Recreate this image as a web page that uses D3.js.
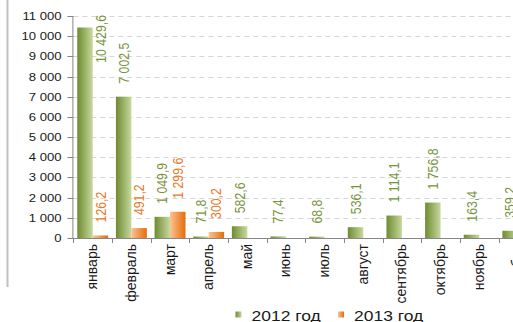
<!DOCTYPE html>
<html><head><meta charset="utf-8">
<script src="https://cdn.jsdelivr.net/npm/d3@7"></script>
<style>
html,body{margin:0;padding:0;background:#fff;overflow:hidden}
svg{display:block;font-family:"Liberation Sans",Arial,sans-serif}
</style></head>
<body>
<script>
const months = ["январь","февраль","март","апрель","май","июнь","июль","август","сентябрь","октябрь","ноябрь","декабрь"];
const values2012 = [10429.6, 7002.5, 1049.9, 71.8, 582.6, 77.4, 68.8, 536.1, 1114.1, 1756.8, 163.4, 359.2];
const values2013 = [126.2, 491.2, 1299.6, 300.2, null, null, null, null, null, null, null, null];
const seriesNames = ["2012 год", "2013 год"];
const yTicks = [0,1000,2000,3000,4000,5000,6000,7000,8000,9000,10000,11000];

const W = 513, H = 322;
const svg = d3.select("body").append("svg").attr("width", W).attr("height", H);

const defs = svg.append("defs");
const g1 = defs.append("linearGradient").attr("id","gGreen").attr("x1","0").attr("x2","1").attr("y1","0").attr("y2","0");
g1.append("stop").attr("offset","0").attr("stop-color","#6E8B30");
g1.append("stop").attr("offset","1").attr("stop-color","#C6D99E");
const g2 = defs.append("linearGradient").attr("id","gOrange").attr("x1","0").attr("x2","1").attr("y1","0").attr("y2","0");
g2.append("stop").attr("offset","0").attr("stop-color","#FAC494");
g2.append("stop").attr("offset","1").attr("stop-color","#E46C0A");
const fills = ["url(#gGreen)","url(#gOrange)"];
const labelColors = ["#77933C","#E8782A"];

const plotLeft = 73.4, plotTop = 16, plotBottom = 238;
const bandW = 38.65;
const x = d3.scaleBand().domain(months).range([plotLeft, plotLeft + bandW*months.length]).paddingInner(0).paddingOuter(0);
const xs = d3.scaleBand().domain([0,1]).range([x.bandwidth()*0.1, x.bandwidth()*0.9]).padding(0);
const y = d3.scaleLinear().domain([0, 11000]).range([plotBottom, plotTop]);

// left frame line
svg.append("line").attr("x1",7.5).attr("x2",7.5).attr("y1",0).attr("y2",287)
  .attr("stroke","#C0C0C0").attr("stroke-width",2);

// gridlines
svg.append("g").selectAll("line").data(yTicks.filter(d=>d>0)).join("line")
  .attr("x1", plotLeft).attr("x2", W)
  .attr("y1", d=>Math.round(y(d))+0.5).attr("y2", d=>Math.round(y(d))+0.5)
  .attr("stroke","#D6D6D6").attr("stroke-width",1).attr("stroke-dasharray","5,4");

// bars
const series = [values2012, values2013];
series.forEach((vals, si) => {
  svg.append("g").selectAll("rect").data(months.map((m,i)=>({m, v: vals[i]})).filter(d=>d.v!=null)).join("rect")
    .attr("x", d=>x(d.m)+xs(si)).attr("width", xs.bandwidth())
    .attr("y", d=>y(d.v)).attr("height", d=>plotBottom - y(d.v))
    .attr("fill", fills[si]);
});

// data labels
const fmt = v => {
  const s = v.toFixed(1).replace(".", ",");
  const [ip, dp] = s.split(",");
  return ip.replace(/\B(?=(\d{3})+(?!\d))/g, "\u00a0") + "," + dp;
};
const lblFont = 12.3, gap = 13, thick = 1.15;
series.forEach((vals, si) => {
  months.forEach((m, i) => {
    const v = vals[i];
    if (v == null) return;
    const t = svg.append("text").text(fmt(v))
      .attr("font-size", lblFont).attr("fill", labelColors[si]);
    const len = t.node().getComputedTextLength();
    let cx = x(m) + xs(si) + xs.bandwidth()/2;
    let yb = y(v) - gap;
    if (yb - len < plotTop - 2) {
      // does not fit above the bar: moved beside it, aligned to the top
      cx += xs.bandwidth();
      yb = plotTop - 1 + len;
    }
    t.attr("transform", `translate(${cx + 0.36*lblFont*thick},${yb}) scale(${thick},1) rotate(-90)`);
  });
});

// y axis
svg.append("line").attr("x1",plotLeft-0.5).attr("x2",plotLeft-0.5).attr("y1",plotTop).attr("y2",plotBottom)
  .attr("stroke","#868686");
svg.append("g").selectAll("line").data(yTicks).join("line")
  .attr("x1", plotLeft-6).attr("x2", plotLeft)
  .attr("y1", d=>Math.round(y(d))+0.5).attr("y2", d=>Math.round(y(d))+0.5)
  .attr("stroke","#868686");
const tickFmt = v => v.toString().replace(/\B(?=(\d{3})+(?!\d))/g, "\u00a0");
svg.append("g").selectAll("text").data(yTicks).join("text")
  .attr("text-anchor","end").attr("font-size",11.2).attr("fill","#1a1a1a")
  .attr("transform", d=>`translate(61.5,${y(d)+4}) scale(1.17,1)`)
  .text(tickFmt);

// x axis
svg.append("line").attr("x1",plotLeft-0.5).attr("x2",W).attr("y1",plotBottom+0.5).attr("y2",plotBottom+0.5)
  .attr("stroke","#868686");
svg.append("g").selectAll("line").data(months).join("line")
  .attr("x1", d=>Math.round(x(d))+0.5).attr("x2", d=>Math.round(x(d))+0.5)
  .attr("y1", plotBottom).attr("y2", plotBottom+5)
  .attr("stroke","#868686");
svg.append("g").selectAll("text").data(months).join("text")
  .attr("text-anchor","end").attr("font-size",14).attr("fill","#1a1a1a")
  .attr("transform", d=>`translate(${x(d)+x.bandwidth()/2+4.5},244) rotate(-90)`)
  .text(d=>d);

// legend
const legX = [235.5, 338];
seriesNames.forEach((name, si) => {
  svg.append("rect").attr("x", legX[si]).attr("y", 311.5).attr("width", 6).attr("height", 6).attr("fill", fills[si]);
  svg.append("text").attr("font-size", 14).attr("fill","#1a1a1a")
    .attr("transform", `translate(${legX[si]+16},320.5) scale(1.25,1)`).text(name);
});
</script>
</body></html>
